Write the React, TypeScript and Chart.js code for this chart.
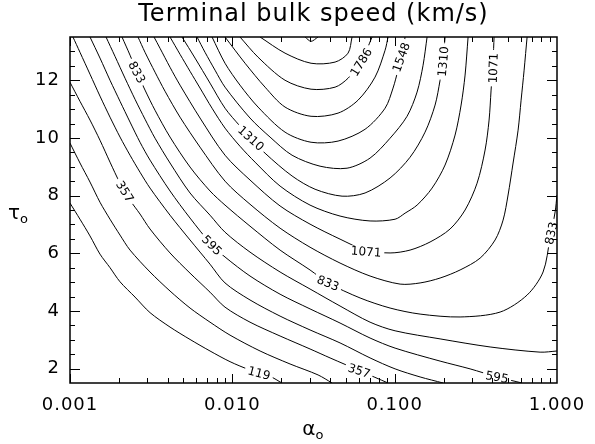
import React, { useEffect, useRef } from 'react';
import { Chart, registerables } from 'chart.js';

Chart.register(...registerables);

type Pt = [number, number];

// contour levels (km/s)
const levels = [119, 238, 357, 476, 595, 714, 833, 952, 1071, 1190, 1310, 1429, 1548, 1667, 1786, 1905, 2024];

// each contour: [alpha_o, tau_o]
const c0119: Pt[] = [[0.001, 7.74], [0.001152, 7.18], [0.001328, 6.6], [0.00153, 5.97], [0.001764, 5.5], [0.002033, 5.01], [0.002515, 4.48], [0.003112, 3.94], [0.004132, 3.44], [0.005488, 3.01], [0.007288, 2.61], [0.009678, 2.24], [0.01285, 1.95], [0.01707, 1.73], [0.0202, 1.5]];
const c0238: Pt[] = [[0.001, 9.82], [0.001152, 9.13], [0.001328, 8.47], [0.00153, 7.77], [0.001764, 7.18], [0.002033, 6.63], [0.002343, 6.11], [0.003112, 5.35], [0.004132, 4.69], [0.005488, 4.1], [0.007288, 3.61], [0.009678, 3.16], [0.01482, 2.61], [0.02267, 2.16], [0.03373, 1.78], [0.04115, 1.5]];
const c0357: Pt[] = [[0.001, 11.93], [0.001152, 11.27], [0.001328, 10.62], [0.00153, 9.92], [0.001764, 9.16], [0.002033, 8.43], [0.002343, 7.84], [0.0027, 7.36], [0.003112, 6.84], [0.004132, 6.01], [0.005488, 5.31], [0.007288, 4.65], [0.009016, 4.13], [0.01285, 3.61], [0.01968, 3.13], [0.03011, 2.68], [0.03999, 2.37], [0.0612, 1.92], [0.09105, 1.5]];
const c0476: Pt[] = [[0.001043, 13.5], [0.001152, 12.97], [0.001328, 12.21], [0.00153, 11.45], [0.001764, 10.72], [0.002033, 10.03], [0.002343, 9.4], [0.0027, 8.81], [0.003112, 8.26], [0.004132, 7.32], [0.005488, 6.46], [0.007288, 5.62], [0.009016, 4.97], [0.01285, 4.38], [0.01968, 3.82], [0.03011, 3.34], [0.04608, 2.89], [0.07053, 2.37], [0.1006, 1.99], [0.1434, 1.71], [0.1987, 1.5]];
const c0595: Pt[] = [[0.001328, 13.5], [0.00153, 12.77], [0.001764, 12.0], [0.002033, 11.27], [0.002343, 10.55], [0.0027, 9.85], [0.003112, 9.23], [0.004132, 8.16], [0.005488, 7.22], [0.007498, 6.28], [0.009016, 5.87], [0.01285, 5.21], [0.01968, 4.58], [0.03011, 4.07], [0.04608, 3.58], [0.07053, 3.06], [0.1006, 2.71], [0.1904, 2.26], [0.2914, 1.99], [0.4275, 1.71], [0.6095, 1.5]];
const c0714: Pt[] = [[0.001667, 13.5], [0.001893, 12.83], [0.002183, 12.07], [0.002515, 11.34], [0.002898, 10.65], [0.00334, 9.99], [0.004132, 9.13], [0.005488, 8.09], [0.007288, 7.32], [0.009016, 6.73], [0.01285, 6.04], [0.01968, 5.35], [0.03011, 4.76], [0.04608, 4.17], [0.07053, 3.61], [0.1006, 3.31], [0.1904, 3.03], [0.3871, 2.75], [0.7868, 2.57], [1.0, 2.61]];
const c0833: Pt[] = [[0.002091, 13.5], [0.002343, 12.87], [0.002587, 12.28], [0.002898, 11.66], [0.00334, 10.96], [0.004132, 10.03], [0.005488, 8.99], [0.007288, 8.16], [0.009016, 7.67], [0.01285, 6.94], [0.01968, 6.11], [0.03011, 5.42], [0.03888, 4.97], [0.0612, 4.45], [0.09369, 4.1], [0.1434, 3.89], [0.2529, 3.79], [0.4461, 3.96], [0.6543, 4.55], [0.8208, 5.35], [0.9068, 6.53], [0.9734, 7.43], [1.0, 8.02]];
const c0952: Pt[] = [[0.002624, 13.5], [0.002898, 12.97], [0.00334, 12.28], [0.003848, 11.62], [0.004762, 10.72], [0.006324, 9.68], [0.009016, 8.5], [0.01285, 7.7], [0.01968, 6.87], [0.03011, 6.21], [0.04608, 5.66], [0.07053, 5.21], [0.108, 4.93], [0.1434, 4.97], [0.1904, 5.14], [0.2529, 5.42], [0.3359, 5.83], [0.4155, 6.46], [0.4655, 7.15], [0.4996, 8.02], [0.5364, 9.13], [0.5759, 10.27], [0.601, 11.31], [0.6272, 12.35], [0.6543, 13.5]];
const c1071: Pt[] = [[0.003293, 13.5], [0.003585, 13.11], [0.004132, 12.45], [0.004762, 11.83], [0.006324, 10.69], [0.009016, 9.4], [0.01285, 8.54], [0.01968, 7.64], [0.03011, 7.01], [0.04608, 6.49], [0.06571, 6.11], [0.09369, 6.01], [0.1244, 6.11], [0.1652, 6.39], [0.2194, 6.84], [0.2715, 7.5], [0.3219, 8.43], [0.3606, 9.58], [0.3816, 10.62], [0.3926, 11.66], [0.4039, 12.7], [0.4096, 13.5]];
const c1190: Pt[] = [[0.004132, 13.5], [0.004762, 12.9], [0.005488, 12.31], [0.006324, 11.73], [0.007498, 11.03], [0.009016, 10.34], [0.01115, 9.71], [0.0138, 9.16], [0.01968, 8.33], [0.03011, 7.67], [0.04608, 7.29], [0.07053, 7.12], [0.1006, 7.18], [0.1159, 7.39], [0.1374, 7.67], [0.17, 8.26], [0.2044, 9.06], [0.2356, 10.1], [0.2566, 11.14], [0.2715, 12.18], [0.2833, 13.5]];
const c1310: Pt[] = [[0.004898, 13.5], [0.00589, 12.77], [0.007288, 11.9], [0.009016, 11.03], [0.01115, 10.41], [0.01304, 9.99], [0.01591, 9.47], [0.02333, 8.68], [0.03233, 8.22], [0.04741, 7.98], [0.06571, 8.09], [0.09369, 8.61], [0.1244, 9.33], [0.1539, 10.2], [0.1774, 11.14], [0.1904, 12.0], [0.1987, 12.7], [0.2044, 13.5]];
const c1429: Pt[] = [[0.00606, 13.5], [0.006789, 12.97], [0.007823, 12.35], [0.009016, 11.76], [0.01285, 10.69], [0.01707, 10.03], [0.02333, 9.4], [0.0347, 9.02], [0.0509, 8.95], [0.07053, 9.3], [0.09369, 9.99], [0.1192, 10.75], [0.1374, 11.59], [0.1496, 12.52], [0.1584, 13.5]];
const c1548: Pt[] = [[0.007498, 13.5], [0.009016, 12.59], [0.01115, 11.83], [0.0144, 11.07], [0.02112, 10.2], [0.03054, 9.85], [0.04479, 9.89], [0.06571, 10.3], [0.08727, 11.03], [0.09774, 11.73], [0.1049, 12.35], [0.1111, 12.87], [0.1159, 13.5]];
const c1667: Pt[] = [[0.009016, 13.5], [0.01198, 12.59], [0.01591, 11.76], [0.02112, 11.07], [0.03054, 10.75], [0.04479, 10.86], [0.05951, 11.31], [0.07573, 12.11], [0.08727, 13.04], [0.09105, 13.5]];
const c1786: Pt[] = [[0.01115, 13.5], [0.0144, 12.8], [0.02112, 12.0], [0.03054, 11.69], [0.04294, 11.76], [0.05163, 12.07], [0.06209, 12.63], [0.07258, 13.5]];
const c1905: Pt[] = [[0.01482, 13.5], [0.02112, 12.94], [0.03054, 12.59], [0.04294, 12.63], [0.05163, 12.94], [0.05464, 13.5]];
const c2024: Pt[] = [[0.02805, 13.5], [0.03054, 13.35], [0.03373, 13.5]];

const contours: Pt[][] = [c0119, c0238, c0357, c0476, c0595, c0714, c0833, c0952, c1071, c1190, c1310, c1429, c1548, c1667, c1786, c1905, c2024];

// in-line contour labels
const labelTexts = ['833', '357', '595', '1310', '1071', '833', '119', '357', '595', '833', '1786', '1548', '1310', '1071'];
const labelAlpha = [0.002587, 0.00218, 0.007498, 0.01304, 0.06666, 0.03888, 0.0146, 0.06036, 0.4275, 0.9199, 0.06209, 0.1095, 0.1987, 0.4039];
const labelTau = [12.28, 8.14, 6.28, 9.99, 6.06, 4.97, 1.85, 1.93, 1.71, 6.7, 12.63, 12.8, 12.65, 12.42];
const labelAngle = [62, 58, 45, 42, 4, 22, 15, 18, 10, -78, -58, -70, -85, -88];

const xTickValues = [0.001, 0.01, 0.1, 1];
const xTickLabels = ['0.001', '0.010', '0.100', '1.000'];
const yTickValues = [2, 4, 6, 8, 10, 12];
const yTickLabels = ['2', '4', '6', '8', '10', '12'];

const TITLE = 'Terminal bulk speed (km/s)';
const FONT = '"DejaVu Sans", sans-serif';

const framePlugin = {
  id: 'idlFrame',
  afterDatasetsDraw(chart: any) {
    const { ctx, chartArea: a, scales } = chart;
    const xs = scales.x;
    const ys = scales.y;
    ctx.save();

    // contour labels with white knock-out
    ctx.font = `12px ${FONT}`;
    ctx.textAlign = 'center';
    ctx.textBaseline = 'middle';
    for (let i = 0; i < labelTexts.length; i++) {
      const px = xs.getPixelForValue(labelAlpha[i]);
      const py = ys.getPixelForValue(labelTau[i]);
      ctx.save();
      ctx.translate(px, py);
      ctx.rotate((labelAngle[i] * Math.PI) / 180);
      const w = ctx.measureText(labelTexts[i]).width;
      ctx.fillStyle = '#fff';
      ctx.fillRect(-w / 2 - 3, -5, w + 6, 10);
      ctx.fillStyle = '#000';
      ctx.fillText(labelTexts[i], 0, 1);
      ctx.restore();
    }

    // frame
    ctx.strokeStyle = '#000';
    ctx.lineWidth = 1.5;
    ctx.strokeRect(a.left, a.top, a.right - a.left, a.bottom - a.top);

    // ticks (inward, IDL style)
    ctx.lineWidth = 1;
    ctx.beginPath();
    for (const d of [0.001, 0.01, 0.1]) {
      for (let m = 1; m <= 9; m++) {
        const px = Math.round(xs.getPixelForValue(d * m)) + 0.5;
        const len = m === 1 ? 9 : 5;
        ctx.moveTo(px, a.bottom);
        ctx.lineTo(px, a.bottom - len);
        ctx.moveTo(px, a.top);
        ctx.lineTo(px, a.top + len);
      }
    }
    for (let v = 2; v <= 13.01; v += 0.5) {
      const py = Math.round(ys.getPixelForValue(v)) + 0.5;
      const len = Math.abs(v % 2) < 0.01 ? 10 : 5;
      ctx.moveTo(a.left, py);
      ctx.lineTo(a.left + len, py);
      ctx.moveTo(a.right, py);
      ctx.lineTo(a.right - len, py);
    }
    ctx.stroke();

    ctx.fillStyle = '#000';
    ctx.textBaseline = 'middle';
    // tick labels
    ctx.font = `18px ${FONT}`;
    (ctx as any).letterSpacing = '1px';
    ctx.textAlign = 'center';
    for (let i = 0; i < xTickValues.length; i++) {
      ctx.fillText(xTickLabels[i], xs.getPixelForValue(xTickValues[i]), 405);
    }
    ctx.textAlign = 'right';
    for (let i = 0; i < yTickValues.length; i++) {
      ctx.fillText(yTickLabels[i], a.left - 10, ys.getPixelForValue(yTickValues[i]));
    }

    // title
    const cx = (a.left + a.right) / 2;
    ctx.textAlign = 'center';
    ctx.font = `24px ${FONT}`;
    (ctx as any).letterSpacing = '1px';
    ctx.fillText(TITLE, cx, 15);
    (ctx as any).letterSpacing = '0px';

    // x title alpha_o
    ctx.font = `20px ${FONT}`;
    ctx.textAlign = 'right';
    ctx.fillText('α', cx + 2, 430);
    ctx.font = `13px ${FONT}`;
    ctx.textAlign = 'left';
    ctx.fillText('o', cx + 2, 436);

    // y title tau_o
    ctx.font = `20px ${FONT}`;
    ctx.textAlign = 'right';
    ctx.fillText('τ', 20, 214);
    ctx.font = `13px ${FONT}`;
    ctx.textAlign = 'left';
    ctx.fillText('o', 20, 220);
    ctx.restore();
  },
};

export default function App() {
  const ref = useRef<HTMLCanvasElement | null>(null);
  useEffect(() => {
    if (!ref.current) return;
    const chart = new Chart(ref.current, {
      type: 'scatter',
      data: {
        datasets: contours.map((c, i) => ({
          label: String(levels[i]),
          data: c.map(([x, y]) => ({ x, y })),
          showLine: true,
          borderColor: '#000',
          borderWidth: 1,
          pointRadius: 0,
          tension: 0.3,
          fill: false,
        })),
      },
      options: {
        animation: false,
        responsive: false,
        maintainAspectRatio: false,
        layout: { padding: { top: 37, right: 38, left: 0, bottom: 0 } },
        plugins: { legend: { display: false }, tooltip: { enabled: false }, title: { display: false } },
        scales: {
          x: {
            type: 'logarithmic',
            min: 0.001,
            max: 1,
            grid: { display: false, drawTicks: false },
            border: { display: false },
            afterBuildTicks: (s: any) => {
              s.ticks = xTickValues.map((v) => ({ value: v }));
            },
            afterFit: (s: any) => {
              s.height = 61;
              s.paddingLeft = 0;
              s.paddingRight = 0;
            },
            ticks: { display: false },
          },
          y: {
            type: 'linear',
            min: 1.5,
            max: 13.5,
            grid: { display: false, drawTicks: false },
            border: { display: false },
            afterBuildTicks: (s: any) => {
              s.ticks = yTickValues.map((v) => ({ value: v }));
            },
            afterFit: (s: any) => {
              s.width = 70;
              s.paddingTop = 0;
              s.paddingBottom = 0;
            },
            ticks: { display: false },
          },
        },
      },
      plugins: [framePlugin],
    } as any);
    return () => chart.destroy();
  }, []);
  return (
    <div style={{ position: 'absolute', left: 0, top: 0, width: 595, height: 444, background: '#fff' }}>
      <canvas ref={ref} width={595} height={444} style={{ display: 'block' }} />
    </div>
  );
}
